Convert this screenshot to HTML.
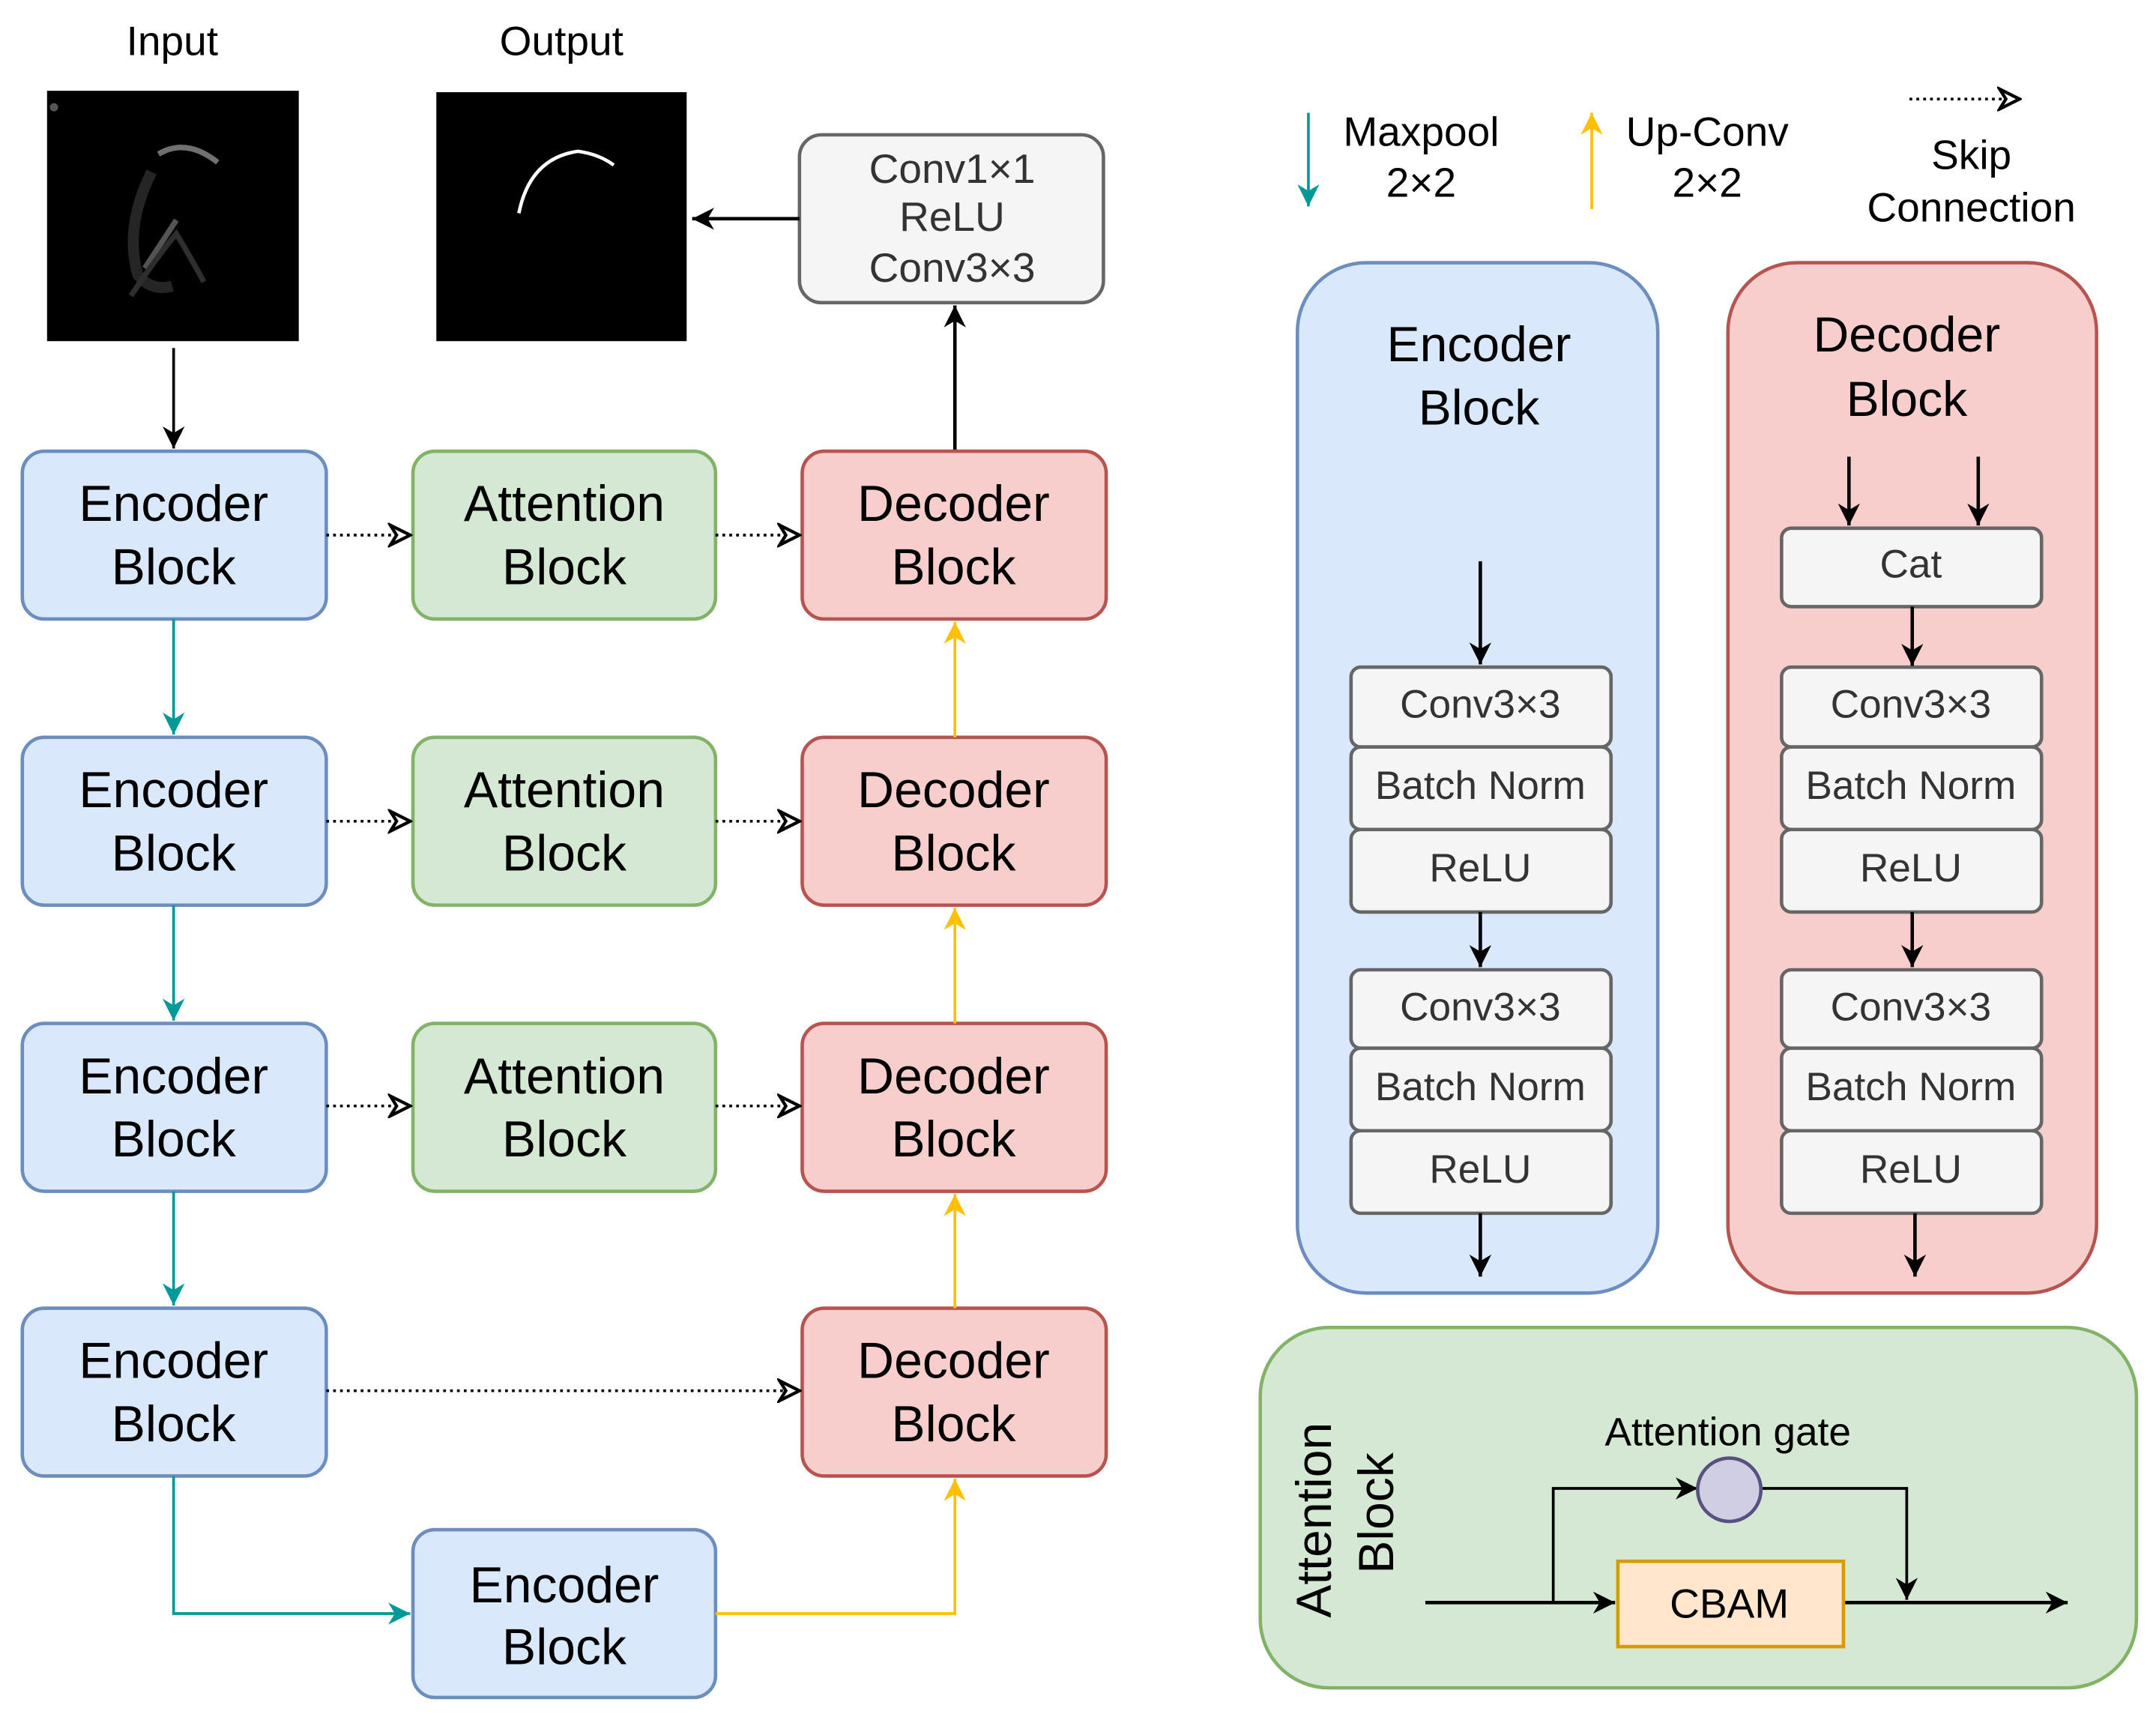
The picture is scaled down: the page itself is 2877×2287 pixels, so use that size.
<!DOCTYPE html>
<html><head><meta charset="utf-8"><style>
html,body{margin:0;padding:0;background:#fff;}
svg{display:block;}
text{font-family:"Liberation Sans","DejaVu Sans",sans-serif;text-anchor:middle;dominant-baseline:middle;}
</style></head><body>
<svg width="2877" height="2287" viewBox="0 0 1567 1246" xmlns="http://www.w3.org/2000/svg">
<defs>
<marker id="abL" viewBox="0 0 10 10" refX="10" refY="5" markerWidth="16" markerHeight="16" markerUnits="userSpaceOnUse" orient="auto"><path d="M0,0 L10,5 L0,10 L3,5 Z" fill="#000"/></marker>
<marker id="at" viewBox="0 0 10 10" refX="10" refY="5" markerWidth="16" markerHeight="16" markerUnits="userSpaceOnUse" orient="auto"><path d="M0,0 L10,5 L0,10 L3,5 Z" fill="#009999"/></marker>
<marker id="ay" viewBox="0 0 10 10" refX="10" refY="5" markerWidth="16" markerHeight="16" markerUnits="userSpaceOnUse" orient="auto"><path d="M0,0 L10,5 L0,10 L3,5 Z" fill="#ffc000"/></marker>
<marker id="ao" viewBox="0 0 10 10" refX="9" refY="5" markerWidth="18" markerHeight="18" markerUnits="userSpaceOnUse" orient="auto"><path d="M1,1 L9,5 L1,9 L3.5,5 Z" fill="#fff" stroke="#000" stroke-width="1.3"/></marker>
</defs>

<text x="125" y="32" font-size="30">Input</text>
<text x="408" y="32" font-size="30">Output</text>
<rect x="34" y="66" width="183" height="182" fill="#000"/>
<circle cx="39" cy="78" r="3" fill="#555"/>
<g fill="none" stroke="#999" opacity="0.55">
<path d="M115,112 Q135,100 158,118" stroke-width="4" stroke="#ccc"/>
<path d="M110,125 Q90,165 100,200 Q110,212 125,208" stroke-width="8" stroke="#444"/>
<path d="M105,195 L128,160" stroke-width="4"/>
<path d="M95,215 Q115,185 128,170 Q140,190 148,205" stroke-width="4" stroke="#555"/>
</g>
<rect x="317" y="67" width="182" height="181" fill="#000"/>
<path d="M377,155 Q385,115 420,110 Q435,112 446,120" fill="none" stroke="#fff" stroke-width="2.5"/>

<rect x="581" y="98" width="221" height="122" rx="16" fill="#f5f5f5" stroke="#666" stroke-width="2.5"/>
<text x="692" y="125" font-size="30" fill="#333">Conv1×1</text>
<text x="692" y="160" font-size="30" fill="#333">ReLU</text>
<text x="692" y="197" font-size="30" fill="#333">Conv3×3</text>
<line x1="581" y1="159" x2="503" y2="159" stroke="#000" stroke-width="2.5" marker-end="url(#abL)"/>
<line x1="694" y1="328" x2="694" y2="222" stroke="#000" stroke-width="2.5" marker-end="url(#abL)"/>
<line x1="126" y1="253" x2="126" y2="326" stroke="#000" stroke-width="2" marker-end="url(#abL)"/>

<g stroke-width="2.5">
<rect x="16" y="328" width="221" height="122" rx="16" fill="#dae8fc" stroke="#6c8ebf"/>
<rect x="300" y="328" width="220" height="122" rx="16" fill="#d5e8d4" stroke="#82b366"/>
<rect x="583" y="328" width="221" height="122" rx="16" fill="#f8cecc" stroke="#b85450"/>
<rect x="16" y="536" width="221" height="122" rx="16" fill="#dae8fc" stroke="#6c8ebf"/>
<rect x="300" y="536" width="220" height="122" rx="16" fill="#d5e8d4" stroke="#82b366"/>
<rect x="583" y="536" width="221" height="122" rx="16" fill="#f8cecc" stroke="#b85450"/>
<rect x="16" y="744" width="221" height="122" rx="16" fill="#dae8fc" stroke="#6c8ebf"/>
<rect x="300" y="744" width="220" height="122" rx="16" fill="#d5e8d4" stroke="#82b366"/>
<rect x="583" y="744" width="221" height="122" rx="16" fill="#f8cecc" stroke="#b85450"/>
<rect x="16" y="951" width="221" height="122" rx="16" fill="#dae8fc" stroke="#6c8ebf"/>
<rect x="583" y="951" width="221" height="122" rx="16" fill="#f8cecc" stroke="#b85450"/>
<rect x="300" y="1112" width="220" height="122" rx="16" fill="#dae8fc" stroke="#6c8ebf"/>
</g>
<g font-size="37">
<text x="126" y="369">Encoder</text><text x="126" y="415">Block</text>
<text x="410" y="369">Attention</text><text x="410" y="415">Block</text>
<text x="693" y="369">Decoder</text><text x="693" y="415">Block</text>
<text x="126" y="577">Encoder</text><text x="126" y="623">Block</text>
<text x="410" y="577">Attention</text><text x="410" y="623">Block</text>
<text x="693" y="577">Decoder</text><text x="693" y="623">Block</text>
<text x="126" y="785">Encoder</text><text x="126" y="831">Block</text>
<text x="410" y="785">Attention</text><text x="410" y="831">Block</text>
<text x="693" y="785">Decoder</text><text x="693" y="831">Block</text>
<text x="126" y="992">Encoder</text><text x="126" y="1038">Block</text>
<text x="693" y="992">Decoder</text><text x="693" y="1038">Block</text>
<text x="410" y="1155">Encoder</text><text x="410" y="1200">Block</text>
</g>

<g stroke="#009999" stroke-width="2" fill="none">
<line x1="126" y1="450" x2="126" y2="534" marker-end="url(#at)"/>
<line x1="126" y1="658" x2="126" y2="742" marker-end="url(#at)"/>
<line x1="126" y1="866" x2="126" y2="949" marker-end="url(#at)"/>
<polyline points="126,1073 126,1173 298,1173" marker-end="url(#at)"/>
</g>
<g stroke="#ffc000" stroke-width="2" fill="none">
<polyline points="520,1173 694,1173 694,1075" marker-end="url(#ay)"/>
<line x1="694" y1="951" x2="694" y2="868" marker-end="url(#ay)"/>
<line x1="694" y1="744" x2="694" y2="660" marker-end="url(#ay)"/>
<line x1="694" y1="536" x2="694" y2="452" marker-end="url(#ay)"/>
</g>
<g stroke="#000" stroke-width="2" stroke-dasharray="2,3" fill="none">
<line x1="237" y1="389" x2="298" y2="389" marker-end="url(#ao)"/>
<line x1="520" y1="389" x2="581" y2="389" marker-end="url(#ao)"/>
<line x1="237" y1="597" x2="298" y2="597" marker-end="url(#ao)"/>
<line x1="520" y1="597" x2="581" y2="597" marker-end="url(#ao)"/>
<line x1="237" y1="804" x2="298" y2="804" marker-end="url(#ao)"/>
<line x1="520" y1="804" x2="581" y2="804" marker-end="url(#ao)"/>
<line x1="237" y1="1011" x2="581" y2="1011" marker-end="url(#ao)"/>
<line x1="1388" y1="72" x2="1468" y2="72" marker-end="url(#ao)"/>
</g>

<line x1="951" y1="82" x2="951" y2="150" stroke="#009999" stroke-width="2" marker-end="url(#at)"/>
<text x="1033" y="98" font-size="30">Maxpool</text><text x="1033" y="135" font-size="30">2×2</text>
<line x1="1157" y1="152" x2="1157" y2="82" stroke="#ffc000" stroke-width="2" marker-end="url(#ay)"/>
<text x="1241" y="98" font-size="30">Up-Conv</text><text x="1241" y="135" font-size="30">2×2</text>
<text x="1433" y="115" font-size="30">Skip</text><text x="1433" y="153" font-size="30">Connection</text>

<rect x="943" y="191" width="262" height="749" rx="50" fill="#dae8fc" stroke="#6c8ebf" stroke-width="2.5"/>
<rect x="1256" y="191" width="268" height="749" rx="50" fill="#f8cecc" stroke="#b85450" stroke-width="2.5"/>
<text x="1075" y="253" font-size="36">Encoder</text><text x="1075" y="299" font-size="36">Block</text>
<text x="1386" y="246" font-size="36">Decoder</text><text x="1386" y="293" font-size="36">Block</text>
<g stroke="#666" stroke-width="2.5" fill="#f5f5f5">
<rect x="982" y="485" width="189" height="58" rx="7"/><rect x="982" y="543" width="189" height="60" rx="7"/><rect x="982" y="603" width="189" height="60" rx="7"/>
<rect x="982" y="705" width="189" height="57" rx="7"/><rect x="982" y="762" width="189" height="60" rx="7"/><rect x="982" y="822" width="189" height="60" rx="7"/>
<rect x="1295" y="384" width="189" height="57" rx="7"/>
<rect x="1295" y="485" width="189" height="58" rx="7"/><rect x="1295" y="543" width="189" height="60" rx="7"/><rect x="1295" y="603" width="189" height="60" rx="7"/>
<rect x="1295" y="705" width="189" height="57" rx="7"/><rect x="1295" y="762" width="189" height="60" rx="7"/><rect x="1295" y="822" width="189" height="60" rx="7"/>
</g>
<g stroke="#000" stroke-width="2.5">
<line x1="1076" y1="408" x2="1076" y2="483" marker-end="url(#abL)"/>
<line x1="1076" y1="663" x2="1076" y2="703" marker-end="url(#abL)"/>
<line x1="1076" y1="882" x2="1076" y2="928" marker-end="url(#abL)"/>
<line x1="1344" y1="332" x2="1344" y2="382" marker-end="url(#abL)"/>
<line x1="1438" y1="332" x2="1438" y2="382" marker-end="url(#abL)"/>
<line x1="1390" y1="441" x2="1390" y2="484" marker-end="url(#abL)"/>
<line x1="1390" y1="663" x2="1390" y2="703" marker-end="url(#abL)"/>
<line x1="1392" y1="882" x2="1392" y2="928" marker-end="url(#abL)"/>
</g>
<g font-size="29" fill="#333">
<text x="1076" y="514">Conv3×3</text><text x="1076" y="573">Batch Norm</text><text x="1076" y="633">ReLU</text>
<text x="1076" y="734">Conv3×3</text><text x="1076" y="792">Batch Norm</text><text x="1076" y="852">ReLU</text>
<text x="1389" y="412">Cat</text>
<text x="1389" y="514">Conv3×3</text><text x="1389" y="573">Batch Norm</text><text x="1389" y="633">ReLU</text>
<text x="1389" y="734">Conv3×3</text><text x="1389" y="792">Batch Norm</text><text x="1389" y="852">ReLU</text>
</g>

<rect x="916" y="965" width="637" height="262" rx="50" fill="#d5e8d4" stroke="#82b366" stroke-width="2.5"/>
<text transform="translate(958,1105) rotate(-90)" font-size="36">Attention</text>
<text transform="translate(1003,1100) rotate(-90)" font-size="36">Block</text>
<text x="1256" y="1043" font-size="29">Attention gate</text>
<g stroke="#000" fill="none">
<line x1="1036" y1="1165" x2="1174" y2="1165" stroke-width="2.5" marker-end="url(#abL)"/>
<line x1="1340" y1="1165" x2="1503" y2="1165" stroke-width="2.5" marker-end="url(#abL)"/>
<polyline points="1129,1165 1129,1082 1234,1082" stroke-width="2" marker-end="url(#abL)"/>
<polyline points="1280,1082 1386,1082 1386,1163" stroke-width="2" marker-end="url(#abL)"/>
</g>
<ellipse cx="1257" cy="1083" rx="23" ry="23" fill="#d0cee2" stroke="#56517e" stroke-width="2.5"/>
<rect x="1176" y="1135" width="164" height="62" fill="#ffe6cc" stroke="#d79b00" stroke-width="2.5"/>
<text x="1257" y="1168" font-size="30">CBAM</text>
</svg>
</body></html>
